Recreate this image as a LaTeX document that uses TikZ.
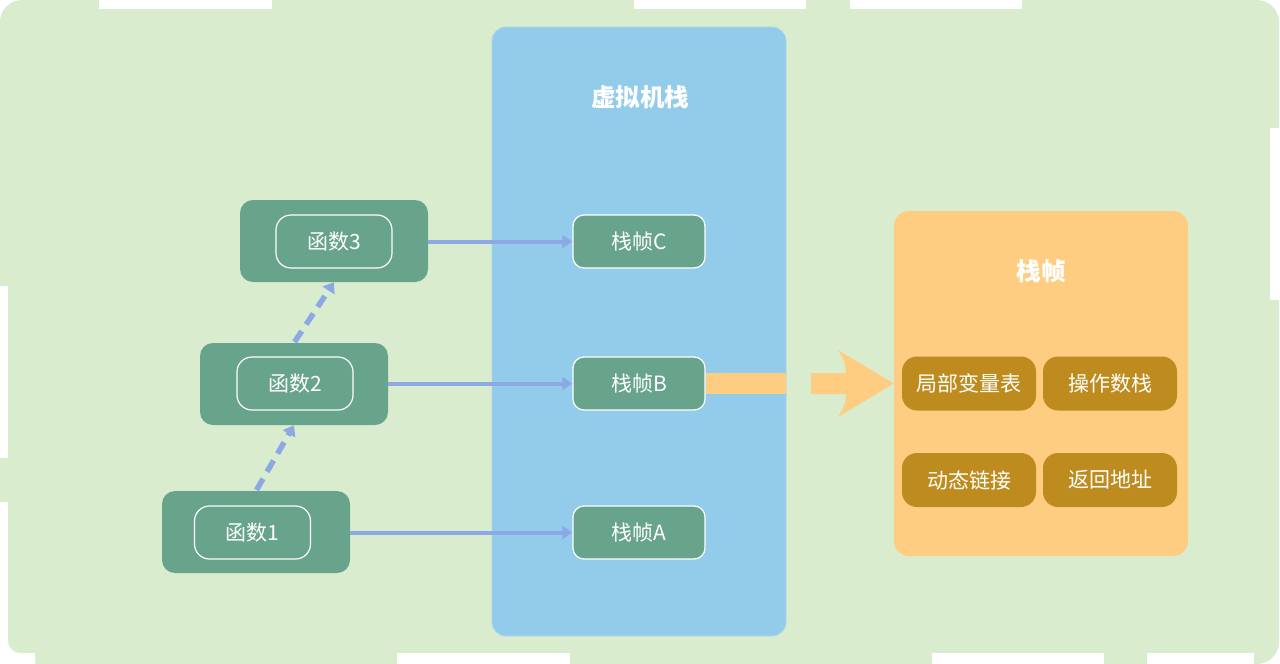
\documentclass[tikz,border=0pt]{standalone}
\usepackage{fontspec}
\setmainfont{Noto Sans CJK SC}
\usetikzlibrary{arrows.meta}
\definecolor{bgg}{HTML}{D9EDCE}
\definecolor{vmblue}{HTML}{93CCEA}
\definecolor{vmedge}{HTML}{A9D6EE}
\definecolor{dgreen}{HTML}{68A38B}
\definecolor{sforange}{HTML}{FFCD82}
\definecolor{gold}{HTML}{BE8B1F}
\definecolor{arrowblue}{HTML}{8CA9E6}
\tikzset{
  lbl/.style={font=\fontsize{21}{25}\selectfont, text=white},
  ttl/.style={font=\fontsize{24.5}{29}\selectfont\bfseries, text=white},
  outerbox/.style={fill=dgreen, rounded corners=13pt, minimum width=188pt, minimum height=82pt, inner sep=0pt},
  innerbox/.style={draw=white, line width=1.2pt, fill=dgreen, rounded corners=15pt, minimum width=116pt, minimum height=53pt, inner sep=0pt, lbl},
  framebox/.style={draw=white, line width=1.2pt, fill=dgreen, rounded corners=11pt, minimum width=132pt, minimum height=53pt, inner sep=0pt, lbl},
  partbox/.style={fill=gold, rounded corners=15pt, minimum width=134pt, minimum height=54pt, inner sep=0pt, lbl},
  callarrow/.style={draw=arrowblue, line width=4pt, -{Triangle[length=10pt,width=13pt]}},
  dasharrow/.style={draw=arrowblue, line width=5.5pt, dash pattern=on 13pt off 8pt, -{Triangle[length=10pt,width=14pt]}, shorten <=1pt},
}
\begin{document}
\begin{tikzpicture}[x=1pt,y=-1pt]
\useasboundingbox (0,0) rectangle (1280,664);
% background
\fill[bgg, rounded corners=22pt] (0,0) rectangle (1279,664);
\fill[white] (99,0) rectangle (272,9);
\fill[white] (634,0) rectangle (806,9);
\fill[white] (850,0) rectangle (1022,9);
\fill[white] (0,286) rectangle (8,458);
\fill[white] (0,502) rectangle (8,664);
\fill[white] (8,641) arc[start angle=180, end angle=90, radius=12] -- (35,653) -- (35,664) -- (8,664) -- cycle;
\fill[white] (397,653) rectangle (570,664);
\fill[white] (932,653) rectangle (1104,664);
\fill[white] (1147,653) rectangle (1254,664);
\fill[white] (1270,128) rectangle (1280,300);

% virtual machine stack
\node[draw=vmedge, line width=0.8pt, fill=vmblue, rounded corners=14pt, minimum width=294pt, minimum height=609pt, inner sep=0pt] (vm) at (639,331.5) {};
\node[ttl] (vmt) at (640,97) {虚拟机栈};
\node[framebox] (fC) at (639,241.5) {栈帧C};
\node[framebox] (fB) at (639,383.5) {栈帧B};
\node[framebox] (fA) at (639,532.5) {栈帧A};

% functions
\node[outerbox] (o3) at (334,241) {};
\node[innerbox] (i3) at (334,241.5) {函数3};
\node[outerbox] (o2) at (294,384) {};
\node[innerbox] (i2) at (295,383.5) {函数2};
\node[outerbox] (o1) at (256,532) {};
\node[innerbox] (i1) at (252.5,532.5) {函数1};

\draw[callarrow] (o3.east |- fC.west) -- (fC.west);
\draw[callarrow] (o2.east |- fB.west) -- (fB.west);
\draw[callarrow] (o1.east |- fA.west) -- (fA.west);
\draw[dasharrow] (o1.north) -- (o2.south);
\draw[dasharrow] (o2.north) -- (o3.south);

% stack frame detail
\node[fill=sforange, rounded corners=15pt, minimum width=294pt, minimum height=345pt, inner sep=0pt] (sf) at (1041,383.5) {};
\node[ttl] (sft) at (1041,271) {栈帧};
\node[partbox] (p1) at (969,383.5) {局部变量表};
\node[partbox] (p2) at (1110,383.5) {操作数栈};
\node[partbox] (p3) at (969,480) {动态链接};
\node[partbox] (p4) at (1110,480) {返回地址};

% orange link and arrow
\draw[sforange, line width=21pt] (fB.east) -- (fB.east -| vm.east);
\coordinate (as) at (811,383.5);
\fill[sforange] (as) ++(0,-10.5) -- (846,373) .. controls (845,362) .. (838,350) -- (sf.west) -- (838,417) .. controls (845,405) .. (846,394) -- (811,394) -- cycle;
\end{tikzpicture}
\end{document}
